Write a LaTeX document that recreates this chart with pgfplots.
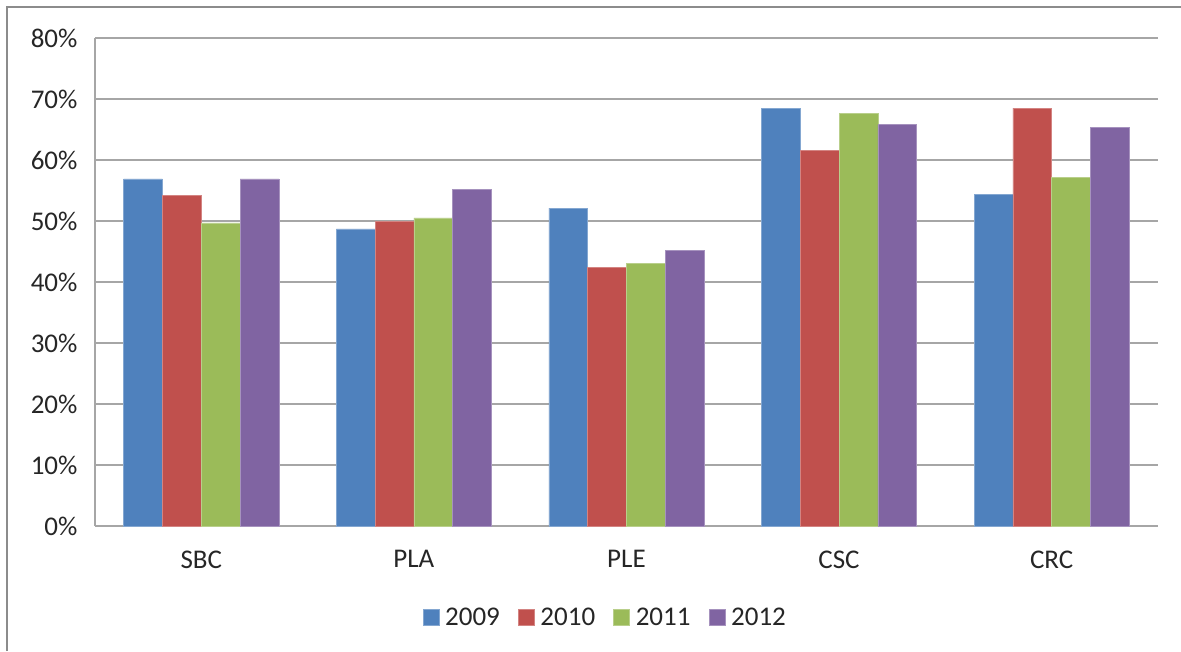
\documentclass[border=0pt]{standalone}
\usepackage{fontspec}
\setmainfont{Carlito}
\usepackage{pgfplots}
\pgfplotsset{compat=1.18}
\definecolor{c09}{HTML}{4F81BD}
\definecolor{c10}{HTML}{C0504D}
\definecolor{c11}{HTML}{9BBB59}
\definecolor{c12}{HTML}{8064A2}
\definecolor{gridc}{HTML}{A6A6A6}
\definecolor{framec}{HTML}{8C8C8C}
\begin{document}
\begin{tikzpicture}[x=1pt,y=1pt]
\path[use as bounding box] (0,0) rectangle (1181,651);
\draw[framec, line width=2.2pt] (7,0) -- (7,644) -- (1181,644);
\begin{axis}[
  at={(95pt,125pt)}, anchor=south west,
  scale only axis, width=1063pt, height=488pt,
  ybar=0pt, bar width=0.1825,
  xmin=-0.5, xmax=4.5, ymin=0, ymax=80,
  ytick={0,10,...,80},
  xtick=data, xticklabels={SBC,PLA,PLE,CSC,CRC},
  axis x line=bottom, axis y line=left,
  axis line style={-, gridc, line width=1.3pt},
  ymajorgrids, grid style={gridc, line width=1.3pt},
  major tick length=0pt,
  tick label style={font=\fontsize{27}{32}\selectfont, text=black!85},
  /pgf/number format/assume math mode=true,
  yticklabel={\pgfmathprintnumber{\tick}\%},
  yticklabel style={xshift=-14pt},
  xticklabel style={yshift=-21pt},
  legend columns=4,
  legend style={draw=none, at={(0.48,-0.188)}, anchor=center,
    font=\fontsize{27}{32}\selectfont, text=black!85,
    /tikz/every odd column/.append style={column sep=4pt},
    /tikz/every even column/.append style={column sep=16pt}},
  legend image code/.code={\fill[#1] (0pt,-8pt) rectangle (16pt,8pt);},
]
\addplot[fill=c09, draw=c09!70!white, line width=0.6pt] coordinates {(0,56.9) (1,48.7) (2,52.1) (3,68.5) (4,54.4)};
\addplot[fill=c10, draw=c10!70!white, line width=0.6pt] coordinates {(0,54.2) (1,50.0) (2,42.4) (3,61.6) (4,68.5)};
\addplot[fill=c11, draw=c11!70!white, line width=0.6pt] coordinates {(0,49.7) (1,50.5) (2,43.1) (3,67.7) (4,57.2)};
\addplot[fill=c12, draw=c12!70!white, line width=0.6pt] coordinates {(0,56.9) (1,55.2) (2,45.2) (3,65.8) (4,65.4)};
\legend{2009,2010,2011,2012}
\end{axis}
\end{tikzpicture}
\end{document}
